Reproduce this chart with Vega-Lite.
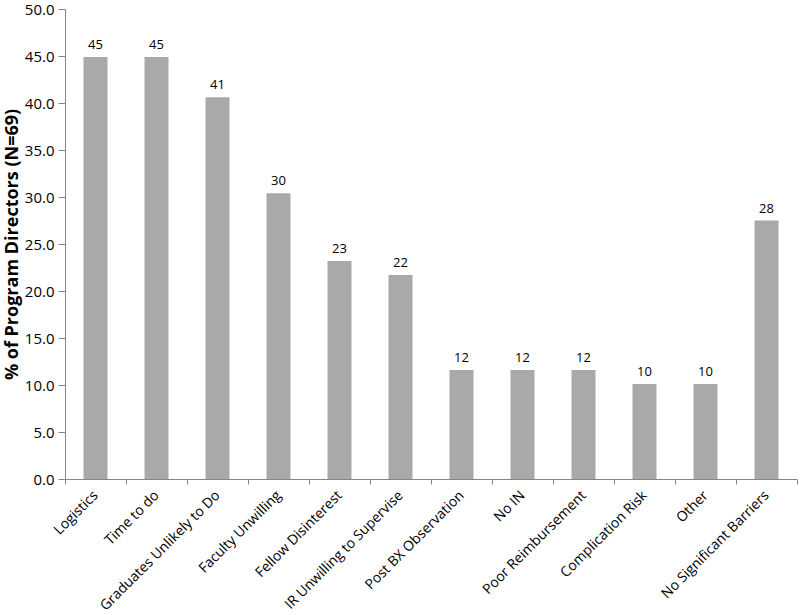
{
  "$schema": "https://vega.github.io/schema/vega-lite/v6.json",
  "width": 732,
  "height": 470,
  "autosize": {"type": "none"},
  "padding": {"left": 65, "top": 9, "right": 3, "bottom": 136},
  "background": "white",
  "config": {"view": {"stroke": null}, "font": "Open Sans"},
  "data": {
    "values": [
      {"barrier": "Logistics", "pct": 44.9, "label": "45"},
      {"barrier": "Time to do", "pct": 44.9, "label": "45"},
      {"barrier": "Graduates Unlikely to Do", "pct": 40.6, "label": "41"},
      {"barrier": "Faculty Unwilling", "pct": 30.4, "label": "30"},
      {"barrier": "Fellow Disinterest", "pct": 23.2, "label": "23"},
      {"barrier": "IR Unwilling to Supervise", "pct": 21.7, "label": "22"},
      {"barrier": "Post BX Observation", "pct": 11.6, "label": "12"},
      {"barrier": "No IN", "pct": 11.6, "label": "12"},
      {"barrier": "Poor Reimbursement", "pct": 11.6, "label": "12"},
      {"barrier": "Complication Risk", "pct": 10.1, "label": "10"},
      {"barrier": "Other", "pct": 10.1, "label": "10"},
      {"barrier": "No Significant Barriers", "pct": 27.5, "label": "28"}
    ]
  },
  "encoding": {
    "x": {
      "field": "barrier",
      "type": "nominal",
      "sort": null,
      "scale": {"paddingInner": 0, "paddingOuter": 0},
      "axis": {
        "title": null,
        "tickBand": "extent",
        "labelAngle": -45,
        "labelAlign": "right",
        "labelBaseline": "middle",
        "labelFontSize": 14,
        "labelColor": "#000000",
        "labelPadding": 9,
        "domainColor": "#868686",
        "tickColor": "#868686",
        "tickSize": 5,
        "labelLimit": 300
      }
    },
    "y": {
      "field": "pct",
      "type": "quantitative",
      "scale": {"domain": [0, 50], "nice": false},
      "axis": {
        "title": "% of Program Directors (N=69)",
        "titleFontSize": 18,
        "titleFontWeight": "bold",
        "titleColor": "#000000",
        "values": [0, 5, 10, 15, 20, 25, 30, 35, 40, 45, 50],
        "format": ".1f",
        "labelFontSize": 15,
        "labelColor": "#000000",
        "labelPadding": 4,
        "grid": false,
        "domainColor": "#868686",
        "tickColor": "#868686",
        "tickSize": 7,
        "titlePadding": 3
      }
    }
  },
  "layer": [
    {"mark": {"type": "bar", "width": 24, "color": "#A9A9A9"}},
    {
      "mark": {"type": "text", "dy": -12, "fontSize": 13, "color": "#000000"},
      "encoding": {"text": {"field": "label"}}
    }
  ]
}
